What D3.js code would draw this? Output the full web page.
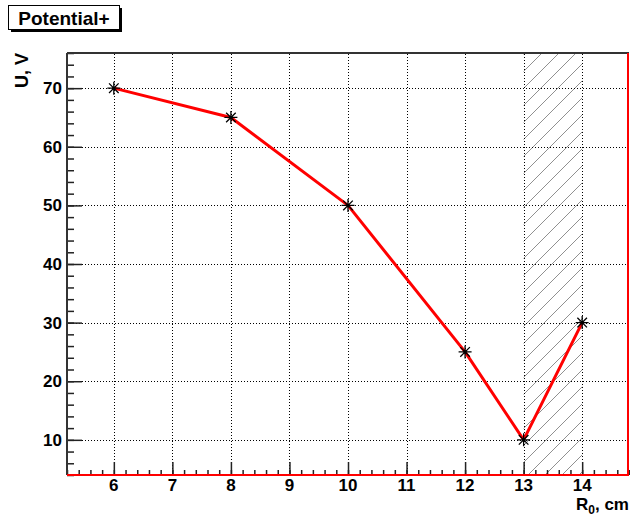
<!DOCTYPE html>
<html>
<head>
<meta charset="utf-8">
<script src="https://cdn.jsdelivr.net/npm/d3@7"></script>
<style>
  html, body { margin: 0; padding: 0; background: #fff; }
  svg { display: block; }
  text { font-family: "Liberation Sans", Arial, Helvetica, sans-serif; font-weight: bold; fill: #000; }
</style>
</head>
<body>
<script>
// Measured potential vs. radius
const radius = [6, 8, 10, 12, 13, 14];
const potential = [70, 65, 50, 25, 10, 30];
const xTicks = [6, 7, 8, 9, 10, 11, 12, 13, 14];
const yTicks = [10, 20, 30, 40, 50, 60, 70];
const hatchedRange = [13, 14];
const xDomain = [5.2, 14.8];
const yDomain = [4, 76];

const W = 630, H = 520;
const m = { left: 67, right: 1, top: 53, bottom: 45 };

const svg = d3.select("body").append("svg").attr("width", W).attr("height", H);

const x = d3.scaleLinear().domain(xDomain).range([m.left, W - m.right]);
const y = d3.scaleLinear().domain(yDomain).range([H - m.bottom, m.top]);

// Diagonal hatch pattern
const defs = svg.append("defs");
const pat = defs.append("pattern")
  .attr("id", "hatch").attr("patternUnits", "userSpaceOnUse")
  .attr("width", 17).attr("height", 17);
pat.append("path")
  .attr("d", "M-1,18 L18,-1 M-9,9 L9,-9 M8,26 L26,8")
  .attr("stroke", "#909090").attr("stroke-width", 1).attr("fill", "none");

// Hatched band
svg.append("rect")
  .attr("x", x(hatchedRange[0])).attr("y", y(yDomain[1]))
  .attr("width", x(hatchedRange[1]) - x(hatchedRange[0]))
  .attr("height", y(yDomain[0]) - y(yDomain[1]))
  .attr("fill", "url(#hatch)");

// Dotted grid
const grid = svg.append("g").attr("stroke", "#000").attr("stroke-width", 1)
  .attr("stroke-dasharray", "1,2");
grid.selectAll(".gx").data(xTicks).join("line")
  .attr("x1", d => Math.round(x(d)) + 0.5).attr("x2", d => Math.round(x(d)) + 0.5)
  .attr("y1", y(yDomain[0])).attr("y2", y(yDomain[1]));
grid.selectAll(".gy").data(yTicks).join("line")
  .attr("y1", d => Math.round(y(d)) + 0.5).attr("y2", d => Math.round(y(d)) + 0.5)
  .attr("x1", x(xDomain[0])).attr("x2", x(xDomain[1]));

// Axes with ticks pointing into the plot
const xMinor = d3.range(52, 149, 2).map(v => v / 10);
const yMinor = d3.range(4, 77, 2);

const xAxisMinor = d3.axisTop(x).tickValues(xMinor).tickSize(5).tickFormat("");
const xAxisMajor = d3.axisTop(x).tickValues(xTicks).tickSize(13).tickFormat("");
const gxMinor = svg.append("g").attr("transform", `translate(0,${H - m.bottom})`).call(xAxisMinor);
const gxMajor = svg.append("g").attr("transform", `translate(0,${H - m.bottom})`).call(xAxisMajor);
[gxMinor, gxMajor].forEach(g => {
  g.select(".domain").remove();
  g.selectAll("line").attr("stroke", "#222").attr("stroke-width", 1.5);
});

const yAxisMinor = d3.axisRight(y).tickValues(yMinor).tickSize(7).tickFormat("");
const yAxisMajor = d3.axisRight(y).tickValues(yTicks).tickSize(15).tickFormat("");
const gyMinor = svg.append("g").attr("transform", `translate(${m.left},0)`).call(yAxisMinor);
const gyMajor = svg.append("g").attr("transform", `translate(${m.left},0)`).call(yAxisMajor);
[gyMinor, gyMajor].forEach(g => {
  g.select(".domain").remove();
  g.selectAll("line").attr("stroke", "#222").attr("stroke-width", 1.5);
});

// Tick labels
svg.append("g").selectAll("text").data(xTicks).join("text")
  .attr("x", d => x(d)).attr("y", 491)
  .attr("text-anchor", "middle").attr("font-size", 17)
  .text(d => d);
svg.append("g").selectAll("text").data(yTicks).join("text")
  .attr("x", 62).attr("y", d => y(d) + 6)
  .attr("text-anchor", "end").attr("font-size", 17)
  .text(d => d);

// Frame: dark top and left, red bottom and right
svg.append("line").attr("x1", m.left).attr("x2", W - m.right)
  .attr("y1", m.top).attr("y2", m.top).attr("stroke", "#333").attr("stroke-width", 2);
svg.append("line").attr("x1", m.left).attr("x2", m.left)
  .attr("y1", m.top).attr("y2", H - m.bottom).attr("stroke", "#333").attr("stroke-width", 2);
svg.append("line").attr("x1", m.left).attr("x2", W - m.right)
  .attr("y1", H - m.bottom).attr("y2", H - m.bottom).attr("stroke", "#f00").attr("stroke-width", 2);
svg.append("line").attr("x1", W - m.right - 1).attr("x2", W - m.right - 1)
  .attr("y1", m.top).attr("y2", H - m.bottom).attr("stroke", "#f00").attr("stroke-width", 2);

// Data line
const pts = radius.map((r, i) => [r, potential[i]]);
svg.append("path").datum(pts)
  .attr("d", d3.line().x(d => x(d[0])).y(d => y(d[1])))
  .attr("fill", "none").attr("stroke", "#f00").attr("stroke-width", 3)
  .attr("stroke-linejoin", "round");

// Star markers
const r = 6.5, rd = 4.8;
const star = `M0,${-r}V${r}M${-r},0H${r}M${-rd},${-rd}L${rd},${rd}M${-rd},${rd}L${rd},${-rd}`;
svg.append("g").selectAll("path").data(pts).join("path")
  .attr("transform", d => `translate(${x(d[0])},${y(d[1])})`)
  .attr("d", star).attr("stroke", "#000").attr("stroke-width", 1.3).attr("fill", "none");

// Axis titles
svg.append("text")
  .attr("transform", `translate(28,${m.top}) rotate(-90)`)
  .attr("text-anchor", "end").attr("font-size", 18)
  .text("U, V");
const xt = svg.append("text").attr("x", 629).attr("y", 510)
  .attr("text-anchor", "end").attr("font-size", 17);
xt.append("tspan").text("R");
xt.append("tspan").attr("font-size", 12).attr("dy", 4).text("0");
xt.append("tspan").attr("dy", -4).text(", cm");

// Title box with shadow
svg.append("rect").attr("x", 11).attr("y", 8).attr("width", 111).attr("height", 24).attr("fill", "#000");
svg.append("rect").attr("x", 8.5).attr("y", 5.5).attr("width", 111).attr("height", 24)
  .attr("fill", "#fff").attr("stroke", "#000").attr("stroke-width", 1);
svg.append("text").attr("x", 64).attr("y", 24.5)
  .attr("text-anchor", "middle").attr("font-size", 19)
  .text("Potential+");
</script>
</body>
</html>
